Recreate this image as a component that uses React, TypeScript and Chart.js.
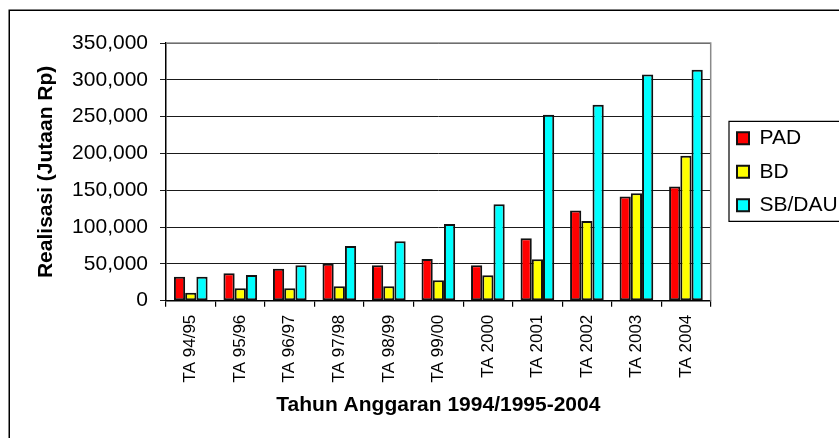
import React, { useEffect, useRef } from "react";
import { Chart, registerables } from "chart.js";

Chart.register(...registerables);

const categories = [
  "TA 94/95", "TA 95/96", "TA 96/97", "TA 97/98", "TA 98/99", "TA 99/00",
  "TA 2000", "TA 2001", "TA 2002", "TA 2003", "TA 2004",
];
const padValues = [32600, 37200, 43500, 50300, 48100, 56700, 48100, 84900, 122400, 141400, 155000];
const bdValues = [10900, 16800, 16800, 19600, 19600, 27700, 34500, 56300, 108400, 146000, 196800];
const sbValues = [32600, 34900, 48100, 74400, 80700, 104300, 131100, 252500, 266100, 307300, 313700];
const seriesNames = ["PAD", "BD", "SB/DAU"];
const yTitle = "Realisasi (Jutaan Rp)";
const xTitle = "Tahun Anggaran 1994/1995-2004";

const FONT = "'Liberation Sans', Arial, sans-serif";

const framePlugin = {
  id: "frames",
  beforeDatasetsDraw(chart: any) {
    const { ctx, chartArea: a } = chart;
    ctx.save();
    ctx.strokeStyle = "#8a8a8a";
    ctx.lineWidth = 1.5;
    ctx.beginPath();
    ctx.moveTo(a.left, a.top);
    ctx.lineTo(a.right, a.top);
    ctx.lineTo(a.right, a.bottom);
    ctx.stroke();
    ctx.restore();
  },
  afterDraw(chart: any) {
    const { ctx, width, height } = chart;
    ctx.save();
    ctx.strokeStyle = "#000";
    ctx.lineWidth = 1.5;
    ctx.beginPath();
    ctx.moveTo(1.25, height + 5);
    ctx.lineTo(1.25, 2.25);
    ctx.lineTo(width + 5, 2.25);
    ctx.stroke();
    const hb = chart.legend && chart.legend.legendHitBoxes;
    if (hb && hb.length) {
      const first = hb[0];
      const last = hb[hb.length - 1];
      const left = first.left - 8;
      const top = first.top + first.height / 2 - 17;
      const bottom = last.top + last.height / 2 + 16;
      ctx.lineWidth = 1.2;
      ctx.beginPath();
      ctx.moveTo(width + 5, top);
      ctx.lineTo(left, top);
      ctx.lineTo(left, bottom);
      ctx.lineTo(width + 5, bottom);
      ctx.stroke();
    }
    ctx.restore();
  },
};

export default function App() {
  const ref = useRef<HTMLCanvasElement | null>(null);

  useEffect(() => {
    if (!ref.current) return;
    const mk = (label: string, data: number[], color: string) => ({
      label,
      data,
      backgroundColor: color,
      borderColor: "#111",
      borderWidth: 2,
      borderSkipped: false,
      categoryPercentage: 0.68,
      barPercentage: 1.0,
    });
    const chart = new Chart(ref.current, {
      type: "bar",
      data: {
        labels: categories,
        datasets: [
          mk(seriesNames[0], padValues, "#FF0000"),
          mk(seriesNames[1], bdValues, "#FFFF00"),
          mk(seriesNames[2], sbValues, "#00FFFF"),
        ],
      },
      options: {
        responsive: false,
        animation: false,
        layout: { padding: { top: 35, left: 0, right: 0, bottom: 0 } },
        plugins: {
          tooltip: { enabled: false },
          legend: {
            position: "right",
            fullSize: false,
            maxWidth: 114.5,
            labels: {
              boxWidth: 12,
              boxHeight: 12,
              padding: 12.5,
              color: "#000",
              font: { family: FONT, size: 21 },
            },
          },
        },
        scales: {
          x: {
            grid: {
              display: true,
              drawOnChartArea: false,
              tickLength: 6,
              color: "#000",
              lineWidth: 1.2,
            },
            border: { display: true, color: "#000", width: 1.5 },
            ticks: {
              autoSkip: false,
              minRotation: 90,
              maxRotation: 90,
              padding: 8,
              color: "#000",
              font: { family: FONT, size: 17 },
            },
            title: {
              display: true,
              text: xTitle,
              color: "#000",
              font: { family: FONT, size: 21, weight: "bold" },
              padding: { top: 0, bottom: 20 },
            },
            afterFit: (s: any) => {
              s.height = 137.3;
            },
          },
          y: {
            min: 0,
            max: 350000,
            grid: { color: "#1a1a1a", lineWidth: 1, tickLength: 6 },
            border: { display: true, color: "#000", width: 1.5 },
            ticks: {
              stepSize: 50000,
              padding: 12,
              color: "#000",
              font: { family: FONT, size: 21 },
              callback: (v: any) => Number(v).toLocaleString("en-US"),
            },
            title: {
              display: true,
              text: yTitle,
              color: "#000",
              font: { family: FONT, size: 21, weight: "bold" },
              padding: { top: 25.4, bottom: 0 },
            },
            afterFit: (s: any) => {
              s.width = 158;
            },
          },
          gap: {
            type: "linear",
            position: "right",
            display: true,
            grid: { display: false },
            border: { display: false },
            ticks: { display: false },
            afterFit: (s: any) => {
              s.width = 13.8;
            },
          },
        },
      } as any,
      plugins: [framePlugin],
    });
    return () => chart.destroy();
  }, []);

  return (
    <div style={{ position: "absolute", left: 8, top: 8, width: 831, height: 430, background: "#fff" }}>
      <canvas ref={ref} width={831} height={430} style={{ width: 831, height: 430, display: "block" }} />
    </div>
  );
}
